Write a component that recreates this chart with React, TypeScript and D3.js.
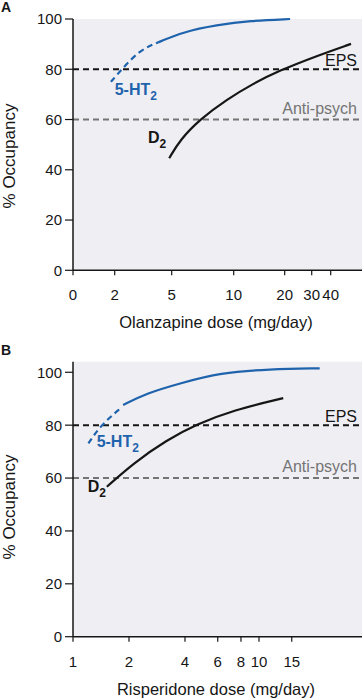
import React from "react";
import * as d3 from "d3";

const W = 362;
const H = 698;
const FONT = "'Liberation Sans', Arial, Helvetica, sans-serif";
const BLUE = "#1f63ad";
const INK = "#161616";
const GREY = "#747474";

// y axis (both panels)
const occTicks = [0, 20, 40, 60, 80, 100];
const epsLevel = 80;
const antiPsychLevel = 60;

// Panel A: olanzapine (hand-drawn, non-uniform dose axis)
const olzTicks = [0, 2, 5, 10, 20, 30, 40];
const olzTickFrac = [0, 0.1443, 0.3415, 0.5561, 0.7325, 0.826, 0.8917];
const olzHtDashDose = [1.82, 2.37, 3.33, 4.29];
const olzHtDashOcc = [75.0, 80.0, 87.7, 90.7];
const olzHtDose = [4.29, 5.94, 8.63, 13.2, 22.0];
const olzHtOcc = [90.7, 94.9, 97.6, 99.3, 100];
const olzD2Dose = [4.87, 5.67, 7.28, 9.44, 13.84, 18.75, 32.6, 50.7];
const olzD2Occ = [44.6, 51.9, 60.1, 68.0, 74.3, 79.3, 85.3, 90.1];

// Panel B: risperidone (log dose axis)
const rspTicks = [1, 2, 4, 6, 8, 10, 15];
const rspHtDashDose = [1.21, 1.41, 1.83];
const rspHtDashOcc = [73.1, 80.0, 86.8];
const rspHtDose = [1.86, 2.49, 3.76, 6.17, 11.4, 21.2];
const rspHtOcc = [87.6, 92.1, 95.8, 99.8, 101.2, 101.5];
const rspD2Dose = [1.52, 2.11, 3.19, 4.62, 7.27, 13.5];
const rspD2Occ = [56.7, 65.6, 74.4, 80.3, 85.7, 90.2];

type Series = { dose: number[]; occ: number[]; color: string; dashed?: boolean };
type Label = { main: string; sub: string; dose: number; occ: number; color: string };

const zip = (a: number[], b: number[]): [number, number][] => a.map((v, i) => [v, b[i]]);

const Panel = ({
  letter,
  top,
  bottom,
  yMax,
  x,
  xTicks,
  xTitle,
  series,
  labels,
  yTitleY,
}: {
  letter: string;
  top: number;
  bottom: number;
  yMax: number;
  x: (v: number) => number;
  xTicks: number[];
  xTitle: string;
  series: Series[];
  labels: Label[];
  yTitleY: number;
}) => {
  const left = 73;
  const right = W;
  const y = d3.scaleLinear([0, yMax], [bottom, top]);
  const line = d3
    .line<[number, number]>()
    .x((d) => x(d[0]))
    .y((d) => y(d[1]))
    .curve(d3.curveBasis);

  return (
    <g fontFamily={FONT}>
      <rect x={left} y={top} width={right - left} height={bottom - top} fill="#efeff3" />
      <line x1={left} x2={right} y1={y(epsLevel)} y2={y(epsLevel)} stroke={INK} strokeWidth={2} strokeDasharray="6,4" />
      <line x1={left} x2={right} y1={y(antiPsychLevel)} y2={y(antiPsychLevel)} stroke={GREY} strokeWidth={2} strokeDasharray="6,4" />
      <text x={right - 5} y={y(epsLevel) - 3} textAnchor="end" fontSize={16} fill={INK}>EPS</text>
      <text x={right - 5} y={y(antiPsychLevel) - 6} textAnchor="end" fontSize={16} fill={GREY}>Anti-psych</text>
      {series.map((s, i) => (
        <path
          key={i}
          d={line(zip(s.dose, s.occ)) as string}
          fill="none"
          stroke={s.color}
          strokeWidth={2.2}
          strokeDasharray={s.dashed ? "6,4" : undefined}
        />
      ))}
      {labels.map((l, i) => (
        <text key={i} x={x(l.dose)} y={y(l.occ)} fontSize={16} fontWeight="bold" fill={l.color}>
          {l.main}
          <tspan fontSize={12} dy={5}>{l.sub}</tspan>
        </text>
      ))}
      <line x1={left} x2={left} y1={top} y2={bottom} stroke={INK} strokeWidth={1.5} />
      <line x1={left} x2={right} y1={bottom} y2={bottom} stroke={INK} strokeWidth={1.5} />
      {occTicks.map((t) => (
        <g key={t}>
          <line x1={left - 8} x2={left} y1={y(t)} y2={y(t)} stroke={INK} strokeWidth={1.2} />
          <text x={left - 11} y={y(t)} dy="0.36em" textAnchor="end" fontSize={15} fill={INK}>{t}</text>
        </g>
      ))}
      {xTicks.map((t) => (
        <g key={t}>
          <line x1={x(t)} x2={x(t)} y1={bottom} y2={bottom + 5} stroke={INK} strokeWidth={1.2} />
          <text x={x(t)} y={bottom + 30} textAnchor="middle" fontSize={15} fill={INK}>{t}</text>
        </g>
      ))}
      <text x={216} y={bottom + 58} textAnchor="middle" fontSize={16.5} fill={INK}>{xTitle}</text>
      <text
        transform={`translate(15,${yTitleY}) rotate(-90)`}
        textAnchor="middle"
        fontSize={17}
        fill={INK}
      >
        % Occupancy
      </text>
      <text x={1} y={top - 7} fontSize={14} fontWeight="bold" fill={INK}>{letter}</text>
    </g>
  );
};

export default function App() {
  const left = 73;
  const innerW = W - left;
  const xA = d3.scaleLinear(olzTicks, olzTickFrac.map((f) => left + f * innerW));
  const xB = d3.scaleLog([1, Math.pow(10, innerW / 186)], [left, W]);

  return (
    <svg width={W} height={H} style={{ position: "absolute", left: 0, top: 0, background: "#fff" }}>
      <Panel
        letter="A"
        top={19}
        bottom={270.3}
        yMax={100}
        x={xA}
        xTicks={olzTicks}
        xTitle="Olanzapine dose (mg/day)"
        yTitleY={156}
        series={[
          { dose: olzHtDashDose, occ: olzHtDashOcc, color: BLUE, dashed: true },
          { dose: olzHtDose, occ: olzHtOcc, color: BLUE },
          { dose: olzD2Dose, occ: olzD2Occ, color: INK },
        ]}
        labels={[
          { main: "5-HT", sub: "2", dose: 2.0, occ: 69.8, color: BLUE },
          { main: "D", sub: "2", dose: 3.75, occ: 50.6, color: INK },
        ]}
      />
      <Panel
        letter="B"
        top={361.7}
        bottom={636.7}
        yMax={104}
        x={xB}
        xTicks={rspTicks}
        xTitle="Risperidone dose (mg/day)"
        yTitleY={507}
        series={[
          { dose: rspHtDashDose, occ: rspHtDashOcc, color: BLUE, dashed: true },
          { dose: rspHtDose, occ: rspHtOcc, color: BLUE },
          { dose: rspD2Dose, occ: rspD2Occ, color: INK },
        ]}
        labels={[
          { main: "5-HT", sub: "2", dose: 1.34, occ: 71.9, color: BLUE },
          { main: "D", sub: "2", dose: 1.2, occ: 54.8, color: INK },
        ]}
      />
    </svg>
  );
}
